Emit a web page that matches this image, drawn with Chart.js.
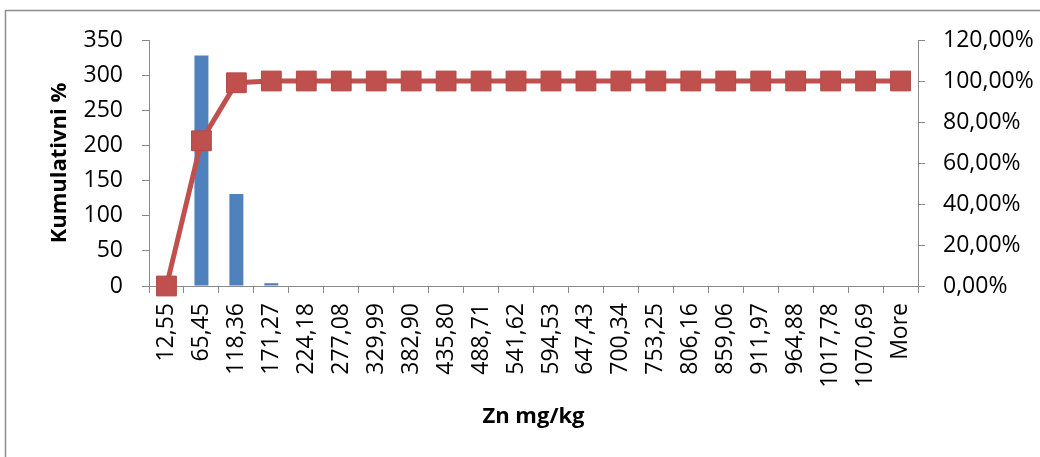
<!DOCTYPE html>
<html>
<head>
<meta charset="utf-8">
<script src="https://cdn.jsdelivr.net/npm/chart.js@4.4.1/dist/chart.umd.min.js"></script>
<style>
  html, body { margin: 0; padding: 0; background: #ffffff; }
  #wrap { position: relative; width: 1040px; height: 457px; }
</style>
</head>
<body>
<div id="wrap"><canvas id="c" width="1040" height="457"></canvas></div>
<script>
const categories = ["12,55","65,45","118,36","171,27","224,18","277,08","329,99","382,90","435,80","488,71","541,62","594,53","647,43","700,34","753,25","806,16","859,06","911,97","964,88","1017,78","1070,69","More"];
const frequency = [0, 328, 131, 4, 0, 0, 0, 0, 0, 0, 0, 0, 0, 0, 0, 0, 0, 0, 0, 0, 0, 0];
const cumulative = [0, 0.7084, 0.9914, 1, 1, 1, 1, 1, 1, 1, 1, 1, 1, 1, 1, 1, 1, 1, 1, 1, 1, 1];
const leftTitle = "Kumulativni %";
const bottomTitle = "Zn mg/kg";

const FONT = "'Open Sans', Lato, sans-serif";
const AXIS = "#8a8a8a";

const framePlugin = {
  id: 'frame',
  beforeDraw(chart) {
    const ctx = chart.ctx;
    ctx.save();
    ctx.fillStyle = '#ffffff';
    ctx.fillRect(0, 0, chart.width, chart.height);
    ctx.strokeStyle = '#8c8c8c';
    ctx.lineWidth = 1.5;
    ctx.beginPath();
    ctx.moveTo(5.5, chart.height);
    ctx.lineTo(5.5, 10.5);
    ctx.lineTo(chart.width, 10.5);
    ctx.stroke();
    ctx.restore();
  }
};

new Chart(document.getElementById('c'), {
  type: 'bar',
  data: {
    labels: categories,
    datasets: [
      {
        type: 'line',
        label: 'Cumulative %',
        data: cumulative,
        yAxisID: 'y2',
        borderColor: '#C0504D',
        backgroundColor: '#C0504D',
        borderWidth: 5,
        pointStyle: 'rect',
        pointRadius: 14,
        pointBackgroundColor: '#C0504D',
        pointBorderColor: '#B24A47',
        pointBorderWidth: 1,
        tension: 0,
        clip: false,
        order: 0
      },
      {
        type: 'bar',
        label: 'Frequency',
        data: frequency,
        yAxisID: 'y',
        backgroundColor: '#4F81BD',
        borderWidth: 0,
        barPercentage: 0.4,
        categoryPercentage: 1.0,
        order: 1
      }
    ]
  },
  plugins: [framePlugin],
  options: {
    responsive: false,
    animation: false,
    devicePixelRatio: 1,
    layout: { padding: { top: 40, left: 0, right: 0, bottom: 0 } },
    plugins: { legend: { display: false }, tooltip: { enabled: false } },
    scales: {
      x: {
        offset: true,
        grid: { display: true, offset: true, drawOnChartArea: false, drawTicks: true, tickLength: 7, color: AXIS },
        border: { display: true, color: AXIS, width: 1 },
        ticks: { autoSkip: false, maxRotation: 90, minRotation: 90, padding: 10, color: '#000', font: { family: FONT, size: 23 } },
        title: { display: true, text: bottomTitle, color: '#000', font: { family: FONT, size: 22, weight: 'bold' }, padding: { top: 0, bottom: 27 } },
        afterFit(scale) { scale.height = 171; }
      },
      y: {
        position: 'left',
        min: 0, max: 350,
        ticks: { stepSize: 50, padding: 19, color: '#000', font: { family: FONT, size: 23 } },
        grid: { display: true, drawOnChartArea: false, drawTicks: true, tickLength: 7, color: AXIS },
        border: { display: true, color: AXIS, width: 1 },
        title: { display: true, text: leftTitle, color: '#000', font: { family: FONT, size: 22, weight: 'bold' }, padding: { top: 47, bottom: 0 } },
        afterFit(scale) { scale.width = 149; }
      },
      y2: {
        position: 'right',
        min: 0, max: 1.2,
        ticks: {
          stepSize: 0.2, padding: 18, color: '#000', font: { family: FONT, size: 23 },
          callback: (v) => (v * 100).toFixed(2).replace('.', ',') + '%'
        },
        grid: { display: true, drawOnChartArea: false, drawTicks: true, tickLength: 7, color: AXIS },
        border: { display: true, color: AXIS, width: 1 },
        afterFit(scale) { scale.width = 122; }
      }
    }
  }
});
</script>
</body>
</html>
